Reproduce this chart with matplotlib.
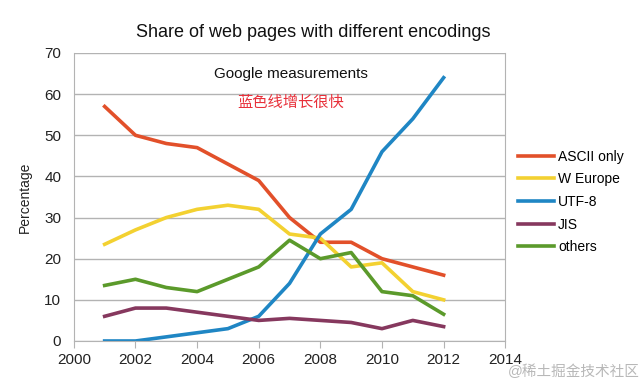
import matplotlib
matplotlib.use("Agg")
import matplotlib.pyplot as plt

plt.rcParams['font.family'] = ['Liberation Sans', 'Noto Sans CJK SC', 'DejaVu Sans']

# Data
years = [2001, 2002, 2003, 2004, 2005, 2006, 2007, 2008, 2009, 2010, 2011, 2012]
ascii_only = [57, 50, 48, 47, 43, 39, 30, 24, 24, 20, 18, 16]
w_europe   = [23.5, 27, 30, 32, 33, 32, 26, 25, 18, 19, 12, 10]
utf8       = [0, 0, 1, 2, 3, 6, 14, 26, 32, 46, 54, 64]
jis        = [6, 8, 8, 7, 6, 5, 5.5, 5, 4.5, 3, 5, 3.5]
others     = [13.5, 15, 13, 12, 15, 18, 24.5, 20, 21.5, 12, 11, 6.5]

series = [
    ("ASCII only", ascii_only, "#e2502a"),
    ("W Europe",   w_europe,   "#f3d131"),
    ("UTF-8",      utf8,       "#1f86c4"),
    ("JIS",        jis,        "#86385e"),
    ("others",     others,     "#5b9a2b"),
]

fig = plt.figure(figsize=(6.42, 3.86), dpi=100)
ax = fig.add_axes([0.115, 0.1166, 0.672, 0.7461])

for name, vals, col in series:
    ax.plot(years, vals, color=col, linewidth=2.6, label=name)

ax.set_xlim(2000, 2014)
ax.set_ylim(0, 70)
ax.set_xticks(range(2000, 2015, 2))
ax.set_yticks(range(0, 71, 10))
ax.yaxis.grid(True, color="#b3b3b3", linewidth=1)
ax.set_axisbelow(True)
ax.spines["top"].set_visible(False)
for s in ["left", "right", "bottom"]:
    ax.spines[s].set_color("#b3b3b3")
ax.tick_params(axis="both", colors="#b3b3b3", labelcolor="#222222",
               labelsize=11, length=5, direction="out")
ax.tick_params(axis="y", length=0, pad=9)

ax.set_ylabel("Percentage", fontsize=10, color="#222222", labelpad=9)
fig.text(0.488, 0.917, "Share of web pages with different encodings",
         ha="center", va="center", fontsize=13, color="#111111")
fig.text(0.453, 0.808, "Google measurements", ha="center", va="center",
         fontsize=11, color="#111111")
fig.text(0.453, 0.735, "蓝色线增长很快", ha="center", va="center",
         fontsize=11, color="#e8303a")

leg = ax.legend(loc="center left", bbox_to_anchor=(1.0, 0.483), frameon=False,
                fontsize=10, handlelength=2.6, handletextpad=0.3,
                labelspacing=0.62)

fig.text(0.997, 0.038, "@稀土掘金技术社区", ha="right", va="center",
         fontsize=10.5, color="#b8b8b8")

fig.savefig("out.png", dpi=100)
